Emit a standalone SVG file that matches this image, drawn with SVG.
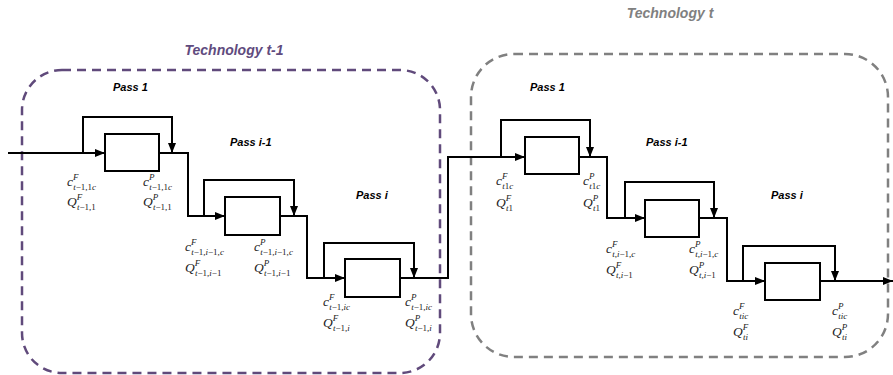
<svg xmlns="http://www.w3.org/2000/svg" width="893" height="375" viewBox="0 0 893 375">
<style>
.frameL{fill:none;stroke:#604a7b;stroke-width:2.5;stroke-dasharray:9 6}
.frameR{fill:none;stroke:#808080;stroke-width:2.5;stroke-dasharray:9 6}
.title{font-family:"Liberation Sans",Arial,sans-serif;font-size:14px;font-weight:bold;font-style:italic}
.pass{font-family:"Liberation Sans",Arial,sans-serif;font-size:11px;font-weight:bold;font-style:italic;fill:#000}
.box{fill:#fff;stroke:#000;stroke-width:2}
.wire{fill:none;stroke:#000;stroke-width:2}
.m{font-family:"Liberation Serif","Times New Roman",serif;font-size:13.5px;font-style:italic;fill:#222}
.s{font-size:9px}
.u{font-style:normal}
</style>
<defs>
<marker id="arr" markerUnits="userSpaceOnUse" markerWidth="11" markerHeight="9" refX="10" refY="4" orient="auto">
<path d="M0,0 L10,4 L0,8 z" fill="#000"/>
</marker>
</defs>

<g id="frames">
<rect class="frameL" x="22" y="70" width="418" height="303" rx="40" ry="40"/>
<rect class="frameR" x="471" y="54" width="417" height="303" rx="43" ry="43"/>
<text class="title" x="234" y="55" text-anchor="middle" fill="#5f4b7e">Technology t-1</text>
<text class="title" x="670" y="18" text-anchor="middle" fill="#808080">Technology t</text>
</g>

<g id="connectors">
<path class="wire" d="M8,153 H105" marker-end="url(#arr)"/>
<path class="wire" d="M83,153 V117 H172 V153" marker-end="url(#arr)"/>
<path class="wire" d="M159,153 H188 V216 H225" marker-end="url(#arr)"/>
<path class="wire" d="M204,216 V180 H294 V216" marker-end="url(#arr)"/>
<path class="wire" d="M280,216 H307 V278 H345" marker-end="url(#arr)"/>
<path class="wire" d="M324,278 V243 H414 V278" marker-end="url(#arr)"/>
<path class="wire" d="M400,278 H448 V157 H525" marker-end="url(#arr)"/>
<path class="wire" d="M501,157 V120 H590 V157" marker-end="url(#arr)"/>
<path class="wire" d="M579,157 H607 V218 H645" marker-end="url(#arr)"/>
<path class="wire" d="M625,218 V182 H714 V218" marker-end="url(#arr)"/>
<path class="wire" d="M699,218 H727 V281 H765" marker-end="url(#arr)"/>
<path class="wire" d="M743,281 V246 H835 V281" marker-end="url(#arr)"/>
<path class="wire" d="M820,281 H893" marker-end="url(#arr)"/>
</g>

<g id="prev-pass1">
<text class="pass" x="113" y="91">Pass 1</text>
<rect class="box" x="105" y="134" width="54" height="37"/>
<text class="m" x="67" y="186">c<tspan class="s" dy="-6.5">F</tspan><tspan class="s" x="73.2" dy="10">t<tspan class="u">−1,1</tspan>c</tspan></text>
<text class="m" x="67" y="206">Q<tspan class="s" dy="-6.5">F</tspan><tspan class="s" x="77" dy="10">t<tspan class="u">−1,1</tspan></tspan></text>
<text class="m" x="143" y="186">c<tspan class="s" dy="-6.5">P</tspan><tspan class="s" x="149.2" dy="10">t<tspan class="u">−1,1</tspan>c</tspan></text>
<text class="m" x="143" y="206">Q<tspan class="s" dy="-6.5">P</tspan><tspan class="s" x="153" dy="10">t<tspan class="u">−1,1</tspan></tspan></text>
</g>

<g id="prev-passi-1">
<text class="pass" x="230" y="146">Pass i-1</text>
<rect class="box" x="225" y="197" width="55" height="38"/>
<text class="m" x="185" y="251">c<tspan class="s" dy="-6.5">F</tspan><tspan class="s" x="191.2" dy="10">t<tspan class="u">−1,</tspan>i<tspan class="u">−1,</tspan>c</tspan></text>
<text class="m" x="185" y="272">Q<tspan class="s" dy="-6.5">F</tspan><tspan class="s" x="195" dy="10">t<tspan class="u">−1,</tspan>i<tspan class="u">−1</tspan></tspan></text>
<text class="m" x="254" y="251">c<tspan class="s" dy="-6.5">P</tspan><tspan class="s" x="260.2" dy="10">t<tspan class="u">−1,</tspan>i<tspan class="u">−1,</tspan>c</tspan></text>
<text class="m" x="254" y="272">Q<tspan class="s" dy="-6.5">P</tspan><tspan class="s" x="264" dy="10">t<tspan class="u">−1,</tspan>i<tspan class="u">−1</tspan></tspan></text>
</g>

<g id="prev-passi">
<text class="pass" x="356" y="199">Pass i</text>
<rect class="box" x="345" y="259" width="55" height="38"/>
<text class="m" x="323" y="306">c<tspan class="s" dy="-6.5">F</tspan><tspan class="s" x="329.2" dy="10">t<tspan class="u">−1,</tspan>ic</tspan></text>
<text class="m" x="323" y="327">Q<tspan class="s" dy="-6.5">F</tspan><tspan class="s" x="333" dy="10">t<tspan class="u">−1,</tspan>i</tspan></text>
<text class="m" x="405" y="306">c<tspan class="s" dy="-6.5">P</tspan><tspan class="s" x="411.2" dy="10">t<tspan class="u">−1,</tspan>ic</tspan></text>
<text class="m" x="405" y="327">Q<tspan class="s" dy="-6.5">P</tspan><tspan class="s" x="415" dy="10">t<tspan class="u">−1,</tspan>i</tspan></text>
</g>

<g id="cur-pass1">
<text class="pass" x="530" y="91">Pass 1</text>
<rect class="box" x="525" y="137" width="54" height="37"/>
<text class="m" x="496" y="185">c<tspan class="s" dy="-6.5">F</tspan><tspan class="s" x="502.2" dy="10">t<tspan class="u">1</tspan>c</tspan></text>
<text class="m" x="496" y="207">Q<tspan class="s" dy="-6.5">F</tspan><tspan class="s" x="506" dy="10">t<tspan class="u">1</tspan></tspan></text>
<text class="m" x="583" y="185">c<tspan class="s" dy="-6.5">P</tspan><tspan class="s" x="589.2" dy="10">t<tspan class="u">1</tspan>c</tspan></text>
<text class="m" x="583" y="207">Q<tspan class="s" dy="-6.5">P</tspan><tspan class="s" x="593" dy="10">t<tspan class="u">1</tspan></tspan></text>
</g>

<g id="cur-passi-1">
<text class="pass" x="646" y="146">Pass i-1</text>
<rect class="box" x="645" y="200" width="54" height="37"/>
<text class="m" x="606" y="253">c<tspan class="s" dy="-6.5">F</tspan><tspan class="s" x="612.2" dy="10">t<tspan class="u">,</tspan>i<tspan class="u">−1,</tspan>c</tspan></text>
<text class="m" x="606" y="274">Q<tspan class="s" dy="-6.5">F</tspan><tspan class="s" x="616" dy="10">t<tspan class="u">,</tspan>i<tspan class="u">−1</tspan></tspan></text>
<text class="m" x="689" y="253">c<tspan class="s" dy="-6.5">P</tspan><tspan class="s" x="695.2" dy="10">t<tspan class="u">,</tspan>i<tspan class="u">−1,</tspan>c</tspan></text>
<text class="m" x="689" y="274">Q<tspan class="s" dy="-6.5">P</tspan><tspan class="s" x="699" dy="10">t<tspan class="u">,</tspan>i<tspan class="u">−1</tspan></tspan></text>
</g>

<g id="cur-passi">
<text class="pass" x="771" y="199">Pass i</text>
<rect class="box" x="765" y="263" width="55" height="37"/>
<text class="m" x="733" y="315">c<tspan class="s" dy="-6.5">F</tspan><tspan class="s" x="739.2" dy="10">tic</tspan></text>
<text class="m" x="733" y="336">Q<tspan class="s" dy="-6.5">F</tspan><tspan class="s" x="743" dy="10">ti</tspan></text>
<text class="m" x="832" y="315">c<tspan class="s" dy="-6.5">P</tspan><tspan class="s" x="838.2" dy="10">tic</tspan></text>
<text class="m" x="832" y="336">Q<tspan class="s" dy="-6.5">P</tspan><tspan class="s" x="842" dy="10">ti</tspan></text>
</g>
</svg>
